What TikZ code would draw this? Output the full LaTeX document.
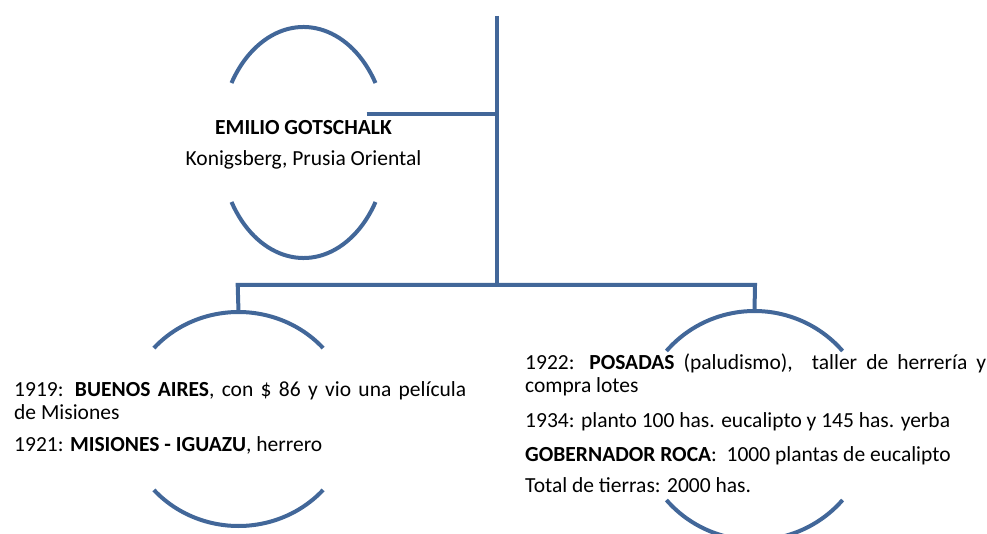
\documentclass[tikz,border=0pt]{standalone}
\usepackage{fontspec}
\setmainfont{Carlito}
\usetikzlibrary{calc}
\definecolor{lineblue}{RGB}{66,103,153}
\begin{document}
\begin{tikzpicture}[x=1pt,y=-1pt,
  line/.style={draw=lineblue,line width=4pt},
  txt/.style={font=\fontsize{21.5}{23}\selectfont, inner sep=0pt, anchor=base west, align=justify},
  ctxt/.style={font=\fontsize{21.5}{23}\selectfont, inner sep=0pt, anchor=base}]
\useasboundingbox (0,0) rectangle (987,534);
\clip (0,0) rectangle (987,534);
% centres of the elliptical frames
\coordinate (c1) at (303.5,142.5);
\coordinate (c2) at (238.5,419);
\coordinate (c3) at (754.5,425.5);
% frames
\draw[line] ($(c1)+(31:84pt and 115.5pt)$) arc[start angle=31,end angle=149,x radius=84pt,y radius=115.5pt];
\draw[line] ($(c1)+(211:84pt and 115.5pt)$) arc[start angle=211,end angle=329,x radius=84pt,y radius=115.5pt];
\draw[line] ($(c2)+(41.5:113pt and 107pt)$) arc[start angle=41.5,end angle=138.5,x radius=113pt,y radius=107pt];
\draw[line] ($(c2)+(221.5:113pt and 107pt)$) arc[start angle=221.5,end angle=318.5,x radius=113pt,y radius=107pt];
\draw[line] ($(c3)+(40.6:116pt and 114.5pt)$) arc[start angle=40.6,end angle=139.4,x radius=116pt,y radius=114.5pt];
\draw[line] ($(c3)+(220.6:116pt and 114.5pt)$) arc[start angle=220.6,end angle=319.4,x radius=116pt,y radius=114.5pt];
% connector points
\coordinate (trunktop) at (496.5,16);
\coordinate (trunkbot) at (496.5,285);
\coordinate (branch) at (496.5,114.5);
\coordinate (parent) at (366.5,114.5);
\coordinate (lcorner) at (237.7,285);
\coordinate (rcorner) at (755,285);
\coordinate (lchild) at ($(c2)+(90:113pt and 107pt)$);
\coordinate (rchild) at ($(c3)+(90:116pt and 114.5pt)$);
\draw[line] (trunktop) -- (trunkbot);
\draw[line] (parent) -- (branch);
\draw[line] (lchild) -- (lcorner) -- (rcorner) -- (rchild);
% texts
\node[ctxt, font=\fontsize{21.5}{23}\selectfont\bfseries] (name) at (303.5,134.3) {EMILIO GOTSCHALK};
\node[ctxt] (origin) at (303.5,165.7) {Konigsberg, Prusia Oriental};
\node[txt, text width=452pt] (ba) at (14,396.7) {\hyphenpenalty=10000 1919: \textbf{BUENOS AIRES}, con \$ 86 y vio una película\linebreak de Misiones};
\node[txt] (ig) at (14,451.7) {1921: \textbf{MISIONES - IGUAZU}, herrero};
\node[txt, text width=461pt] (po) at (525,369.3) {\hyphenpenalty=10000 1922: \textbf{POSADAS} (paludismo), \ taller de herrería y\linebreak compra lotes};
\node[txt] (pl) at (525,427) {1934: planto 100 has. eucalipto y 145 has. yerba};
\node[txt] (go) at (525,461) {\textbf{GOBERNADOR ROCA}: \ 1000 plantas de eucalipto};
\node[txt] (tt) at (525,492) {Total de tierras: 2000 has.};
\end{tikzpicture}
\end{document}
